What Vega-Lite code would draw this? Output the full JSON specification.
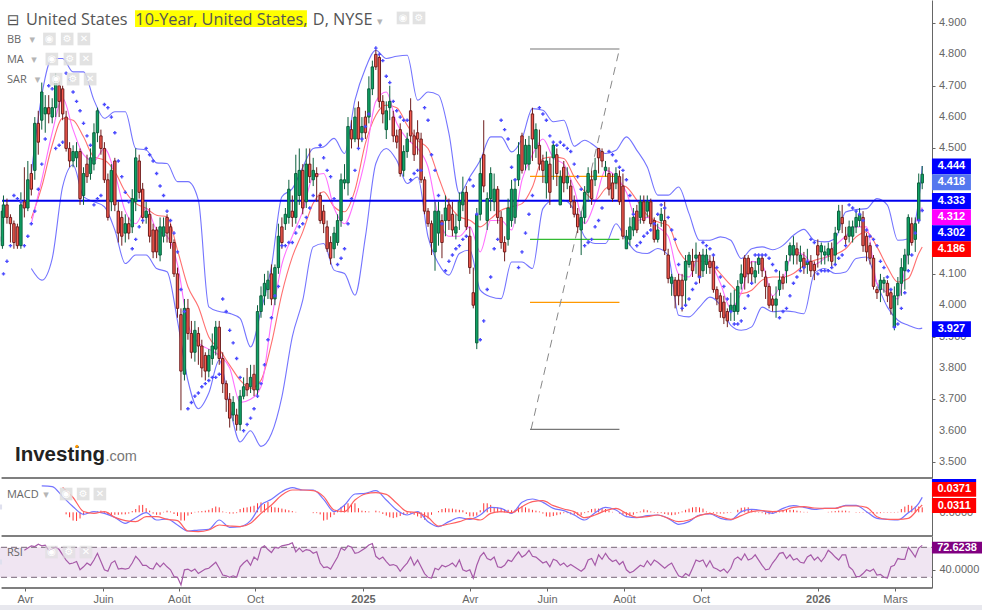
{
"$schema":"https://vega.github.io/schema/vega-lite/v6.json",
"description":"United States 10-Year yield, daily candles with BB, MA, SAR, MACD and RSI panels.",
"padding":0,
"background":"#ffffff",
"spacing":0,
"bounds":"flush",
"config":{"view":{"stroke":null}},
"datasets":{
"candles":[
{"i":0.7,"o":4.19,"h":4.31,"l":4.18,"c":4.30},
{"i":1,"o":4.28,"h":4.35,"l":4.26,"c":4.32,"s":4.10},
{"i":2,"o":4.32,"h":4.34,"l":4.26,"c":4.28,"s":4.14},
{"i":3,"o":4.28,"h":4.29,"l":4.20,"c":4.26,"s":4.19},
{"i":4,"o":4.26,"h":4.27,"l":4.18,"c":4.20,"s":4.35},
{"i":5,"o":4.25,"h":4.26,"l":4.18,"c":4.19,"s":4.34},
{"i":6,"o":4.19,"h":4.36,"l":4.18,"c":4.32,"s":4.33},
{"i":7,"o":4.33,"h":4.44,"l":4.28,"c":4.31,"s":4.19,"r":66},
{"i":8,"o":4.31,"h":4.46,"l":4.30,"c":4.40,"s":4.22,"r":69},
{"i":9,"o":4.42,"h":4.45,"l":4.35,"c":4.37,"s":4.26,"r":72},
{"i":10,"o":4.43,"h":4.60,"l":4.40,"c":4.58,"s":4.30,"r":71},
{"i":11,"o":4.58,"h":4.62,"l":4.48,"c":4.52,"s":4.37,"r":74},
{"i":12,"o":4.59,"h":4.71,"l":4.56,"c":4.68,"s":4.45,"r":72},
{"i":13,"o":4.61,"h":4.67,"l":4.55,"c":4.63,"s":4.53,"r":73},
{"i":14,"o":4.63,"h":4.67,"l":4.58,"c":4.61,"s":4.70,"r":66},
{"i":15,"o":4.60,"h":4.66,"l":4.58,"c":4.63,"s":4.69,"r":68},
{"i":16,"o":4.63,"h":4.74,"l":4.60,"c":4.72,"s":4.50,"d":0,"r":70},
{"i":17,"o":4.70,"h":4.72,"l":4.60,"c":4.65,"s":4.51,"d":0,"r":67},
{"i":18,"o":4.69,"h":4.70,"l":4.59,"c":4.61,"s":4.52,"d":0,"r":60},
{"i":19,"o":4.60,"h":4.62,"l":4.49,"c":4.50,"s":4.74,"d":-0.005,"r":53},
{"i":20,"o":4.50,"h":4.52,"l":4.44,"c":4.46,"s":4.72,"d":-0.012,"r":48},
{"i":21,"o":4.46,"h":4.51,"l":4.44,"c":4.49,"s":4.68,"d":-0.02,"r":49},
{"i":22,"o":4.47,"h":4.52,"l":4.44,"c":4.49,"s":4.65,"d":-0.021,"r":51},
{"i":23,"o":4.49,"h":4.50,"l":4.32,"c":4.34,"s":4.62,"d":-0.015,"r":40},
{"i":24,"o":4.35,"h":4.44,"l":4.32,"c":4.42,"s":4.58,"d":-0.007,"r":44},
{"i":25,"o":4.45,"h":4.48,"l":4.39,"c":4.41,"s":4.54,"d":-0.004,"r":49},
{"i":26,"o":4.42,"h":4.50,"l":4.40,"c":4.47,"s":4.51,"d":-0.001,"r":46},
{"i":27,"o":4.45,"h":4.58,"l":4.43,"c":4.55,"s":4.32,"d":0,"r":53},
{"i":28,"o":4.55,"h":4.63,"l":4.52,"c":4.62,"s":4.34,"d":0.002,"r":62},
{"i":29,"o":4.54,"h":4.56,"l":4.48,"c":4.50,"s":4.35,"d":0.004,"r":51},
{"i":30,"o":4.50,"h":4.52,"l":4.39,"c":4.40,"s":4.64,"d":-0.002,"r":40},
{"i":31,"o":4.40,"h":4.42,"l":4.27,"c":4.28,"s":4.63,"d":-0.006,"r":38},
{"i":32,"o":4.33,"h":4.45,"l":4.30,"c":4.43,"s":4.60,"d":-0.007,"r":49},
{"i":33,"o":4.46,"h":4.47,"l":4.30,"c":4.32,"s":4.55,"d":-0.006,"r":52},
{"i":34,"o":4.30,"h":4.33,"l":4.20,"c":4.23,"s":4.46,"d":-0.006,"r":41},
{"i":35,"o":4.28,"h":4.30,"l":4.19,"c":4.22,"s":4.41,"d":-0.005,"r":42},
{"i":36,"o":4.23,"h":4.29,"l":4.20,"c":4.26,"s":4.36,"d":-0.005,"r":41},
{"i":37,"o":4.26,"h":4.28,"l":4.21,"c":4.23,"s":4.33,"d":-0.003,"r":42},
{"i":38,"o":4.25,"h":4.37,"l":4.23,"c":4.34,"s":4.18,"d":0.003,"r":49},
{"i":39,"o":4.33,"h":4.50,"l":4.30,"c":4.47,"s":4.21,"d":0.008,"r":58},
{"i":40,"o":4.46,"h":4.48,"l":4.34,"c":4.36,"s":4.25,"d":0.017,"r":53},
{"i":41,"o":4.37,"h":4.39,"l":4.26,"c":4.28,"s":4.27,"d":0.018,"r":46},
{"i":42,"o":4.28,"h":4.33,"l":4.26,"c":4.30,"s":4.50,"d":0.01,"r":46},
{"i":43,"o":4.29,"h":4.31,"l":4.20,"c":4.22,"s":4.48,"d":0.004,"r":42},
{"i":44,"o":4.24,"h":4.26,"l":4.15,"c":4.17,"s":4.46,"d":-0.003,"r":41},
{"i":45,"o":4.24,"h":4.25,"l":4.15,"c":4.17,"s":4.42,"d":-0.006,"r":49},
{"i":46,"o":4.16,"h":4.28,"l":4.14,"c":4.25,"s":4.38,"d":-0.006,"r":44},
{"i":47,"o":4.22,"h":4.28,"l":4.20,"c":4.25,"s":4.35,"d":0.001,"r":49},
{"i":48,"o":4.28,"h":4.29,"l":4.20,"c":4.23,"s":4.30,"d":0.004,"r":44},
{"i":49,"o":4.25,"h":4.26,"l":4.18,"c":4.20,"s":4.27,"d":0.002,"r":40},
{"i":50,"o":4.20,"h":4.21,"l":4.09,"c":4.10,"s":4.23,"d":-0.004,"r":31},
{"i":51,"o":4.10,"h":4.12,"l":3.96,"c":3.99,"s":4.17,"d":-0.009,"r":30},
{"i":52,"o":3.97,"h":3.99,"l":3.665,"c":3.79,"s":4.05,"d":-0.02,"r":20},
{"i":53,"o":3.78,"h":4.02,"l":3.76,"c":3.99,"s":3.98,"d":-0.02,"r":40},
{"i":54,"o":3.99,"h":4.02,"l":3.89,"c":3.91,"s":3.67,"d":-0.008,"r":41},
{"i":55,"o":3.91,"h":3.95,"l":3.83,"c":3.85,"s":3.69,"d":-0.004,"r":38},
{"i":56,"o":3.85,"h":3.95,"l":3.82,"c":3.92,"s":3.71,"d":0.001,"r":41},
{"i":57,"o":3.91,"h":3.93,"l":3.81,"c":3.87,"s":3.72,"d":0.002,"r":35},
{"i":58,"o":3.87,"h":3.89,"l":3.77,"c":3.80,"s":3.74,"d":0.003,"r":38},
{"i":59,"o":3.84,"h":3.85,"l":3.76,"c":3.79,"s":3.75,"d":0.004,"r":41},
{"i":60,"o":3.79,"h":3.86,"l":3.77,"c":3.84,"s":3.76,"d":0.006,"r":42},
{"i":61,"o":3.83,"h":3.91,"l":3.81,"c":3.87,"s":3.77,"d":0.01,"r":46},
{"i":62,"o":3.86,"h":3.95,"l":3.84,"c":3.93,"s":3.77,"d":0.014,"r":50},
{"i":63,"o":3.93,"h":3.95,"l":3.81,"c":3.83,"s":3.78,"d":0.012,"r":42},
{"i":64,"o":3.83,"h":3.85,"l":3.72,"c":3.75,"s":4.02,"d":0.002,"r":33},
{"i":65,"o":3.75,"h":3.76,"l":3.66,"c":3.70,"s":3.98,"d":-0.001,"r":32},
{"i":66,"o":3.70,"h":3.72,"l":3.61,"c":3.64,"s":3.92,"d":-0.003,"r":30},
{"i":67,"o":3.65,"h":3.71,"l":3.63,"c":3.69,"s":3.88,"d":-0.003,"r":32},
{"i":68,"o":3.65,"h":3.67,"l":3.60,"c":3.62,"s":3.83,"d":-0.002,"r":30},
{"i":69,"o":3.62,"h":3.73,"l":3.60,"c":3.71,"s":3.77,"d":0.008,"r":44},
{"i":70,"o":3.71,"h":3.77,"l":3.70,"c":3.74,"s":3.60,"d":0.011,"r":49},
{"i":71,"o":3.75,"h":3.80,"l":3.71,"c":3.73,"s":3.62,"d":0.012,"r":53},
{"i":72,"o":3.74,"h":3.81,"l":3.72,"c":3.77,"s":3.64,"d":0.014,"r":46},
{"i":73,"o":3.78,"h":3.81,"l":3.71,"c":3.73,"s":3.67,"d":0.016,"r":57},
{"i":74,"o":3.73,"h":4.00,"l":3.71,"c":3.98,"s":3.71,"d":0.022,"r":53},
{"i":75,"o":3.98,"h":4.06,"l":3.96,"c":4.03,"s":3.75,"d":0.024,"r":69},
{"i":76,"o":4.03,"h":4.10,"l":4.00,"c":4.07,"s":3.81,"d":0.02,"r":72},
{"i":77,"o":4.05,"h":4.11,"l":4.02,"c":4.08,"s":3.89,"d":0.025,"r":67},
{"i":78,"o":4.10,"h":4.13,"l":4.00,"c":4.02,"s":3.96,"d":0.014,"r":63},
{"i":79,"o":4.02,"h":4.13,"l":4.00,"c":4.12,"s":4.03,"d":0.012,"r":70},
{"i":80,"o":4.12,"h":4.26,"l":4.10,"c":4.22,"s":4.06,"d":0.011,"r":69},
{"i":81,"o":4.25,"h":4.28,"l":4.18,"c":4.20,"s":4.19,"d":0.009,"r":72},
{"i":82,"o":4.26,"h":4.31,"l":4.24,"c":4.29,"s":4.19,"d":0.007,"r":73},
{"i":83,"o":4.28,"h":4.40,"l":4.26,"c":4.37,"s":4.20,"d":0.005,"r":74},
{"i":84,"o":4.30,"h":4.35,"l":4.25,"c":4.28,"s":4.20,"d":0.003,"r":76},
{"i":85,"o":4.28,"h":4.48,"l":4.26,"c":4.42,"s":4.23,"d":0.001,"r":64},
{"i":86,"o":4.35,"h":4.50,"l":4.32,"c":4.43,"s":4.25,"d":0,"r":69},
{"i":87,"o":4.43,"h":4.45,"l":4.29,"c":4.31,"s":4.26,"d":0,"r":64},
{"i":88,"o":4.33,"h":4.50,"l":4.31,"c":4.45,"s":4.28,"d":0,"r":67},
{"i":89,"o":4.45,"h":4.50,"l":4.39,"c":4.41,"s":4.31,"d":0,"r":66},
{"i":90,"o":4.40,"h":4.47,"l":4.38,"c":4.43,"s":4.35,"d":-0.002,"r":62},
{"i":91,"o":4.42,"h":4.44,"l":4.33,"c":4.41,"d":-0.002,"r":64},
{"i":92,"o":4.35,"h":4.36,"l":4.26,"c":4.27,"s":4.51,"d":-0.005,"r":49},
{"i":93,"o":4.30,"h":4.32,"l":4.23,"c":4.26,"s":4.47,"d":-0.02,"r":43},
{"i":94,"o":4.25,"h":4.27,"l":4.17,"c":4.18,"s":4.43,"d":-0.018,"r":44},
{"i":95,"o":4.20,"h":4.22,"l":4.13,"c":4.15,"s":4.41,"d":-0.012,"r":41},
{"i":96,"o":4.18,"h":4.25,"l":4.15,"c":4.23,"s":4.34,"d":-0.006,"r":49},
{"i":97,"o":4.20,"h":4.29,"l":4.19,"c":4.27,"s":4.13,"d":0.004,"r":57},
{"i":98,"o":4.27,"h":4.42,"l":4.25,"c":4.40,"s":4.15,"d":0.013,"r":69},
{"i":99,"o":4.39,"h":4.45,"l":4.37,"c":4.40,"s":4.18,"d":0.018,"r":66},
{"i":100,"o":4.39,"h":4.60,"l":4.35,"c":4.57,"s":4.26,"d":0.022,"r":72},
{"i":101,"o":4.56,"h":4.59,"l":4.50,"c":4.53,"s":4.34,"d":0.02,"r":70},
{"i":102,"o":4.53,"h":4.63,"l":4.52,"c":4.60,"s":4.43,"d":0.022,"r":62},
{"i":103,"o":4.63,"h":4.65,"l":4.50,"c":4.53,"s":4.50,"d":0.01,"r":63},
{"i":104,"o":4.55,"h":4.60,"l":4.52,"c":4.57,"s":4.53,"d":0.004,"r":66},
{"i":105,"o":4.60,"h":4.62,"l":4.53,"c":4.55,"s":4.57,"d":0.003,"r":69},
{"i":106,"o":4.60,"h":4.73,"l":4.58,"c":4.69,"s":4.61,"d":0.002,"r":73},
{"i":107,"o":4.69,"h":4.78,"l":4.67,"c":4.76,"d":0,"r":75},
{"i":108,"o":4.80,"h":4.815,"l":4.75,"c":4.76,"s":4.82,"d":0.004,"r":58},
{"i":109,"o":4.79,"h":4.80,"l":4.63,"c":4.65,"s":4.80,"d":0.002,"r":54},
{"i":110,"o":4.65,"h":4.67,"l":4.58,"c":4.61,"s":4.78,"d":-0.004,"r":57},
{"i":111,"o":4.56,"h":4.65,"l":4.53,"c":4.62,"s":4.73,"d":-0.008,"r":51},
{"i":112,"o":4.63,"h":4.70,"l":4.59,"c":4.65,"s":4.71,"d":-0.012,"r":46},
{"i":113,"o":4.60,"h":4.62,"l":4.52,"c":4.54,"s":4.65,"d":-0.014,"r":47},
{"i":114,"o":4.54,"h":4.56,"l":4.50,"c":4.52,"s":4.62,"d":-0.012,"r":45},
{"i":115,"o":4.56,"h":4.58,"l":4.41,"c":4.42,"s":4.60,"d":-0.009,"r":38},
{"i":116,"o":4.43,"h":4.51,"l":4.41,"c":4.49,"s":4.59,"d":-0.006,"r":44},
{"i":117,"o":4.49,"h":4.55,"l":4.47,"c":4.53,"s":4.59,"d":-0.004,"r":49},
{"i":118,"o":4.62,"h":4.66,"l":4.52,"c":4.54,"s":4.40,"d":-0.003,"r":57},
{"i":119,"o":4.54,"h":4.56,"l":4.46,"c":4.48,"s":4.42,"d":-0.006,"r":46},
{"i":120,"o":4.55,"h":4.59,"l":4.48,"c":4.53,"s":4.43,"d":-0.01,"r":53},
{"i":121,"o":4.53,"h":4.55,"l":4.39,"c":4.40,"s":4.43,"d":-0.014,"r":44},
{"i":122,"o":4.40,"h":4.41,"l":4.29,"c":4.30,"s":4.63,"d":-0.018,"r":35},
{"i":123,"o":4.30,"h":4.31,"l":4.25,"c":4.26,"s":4.59,"d":-0.015,"r":30},
{"i":124,"o":4.26,"h":4.27,"l":4.16,"c":4.20,"s":4.48,"d":-0.006,"r":29},
{"i":125,"o":4.17,"h":4.33,"l":4.11,"c":4.30,"s":4.43,"d":0,"r":42},
{"i":126,"o":4.23,"h":4.33,"l":4.19,"c":4.30,"s":4.35,"d":0.003,"r":40},
{"i":127,"o":4.27,"h":4.29,"l":4.15,"c":4.20,"s":4.26,"d":0.008,"r":46},
{"i":128,"o":4.27,"h":4.35,"l":4.22,"c":4.31,"s":4.11,"d":0.01,"r":44},
{"i":129,"o":4.32,"h":4.34,"l":4.24,"c":4.27,"s":4.14,"d":0.009,"r":46},
{"i":130,"o":4.29,"h":4.33,"l":4.22,"c":4.24,"s":4.16,"d":0.009,"r":49},
{"i":131,"o":4.23,"h":4.29,"l":4.21,"c":4.25,"s":4.18,"d":0.007,"r":44},
{"i":132,"o":4.27,"h":4.36,"l":4.24,"c":4.33,"s":4.19,"d":0.006,"r":53},
{"i":133,"o":4.32,"h":4.41,"l":4.30,"c":4.36,"s":4.21,"d":0.005,"r":40},
{"i":134,"o":4.36,"h":4.38,"l":4.24,"c":4.25,"s":4.22,"d":-0.004,"r":38},
{"i":135,"o":4.22,"h":4.25,"l":4.10,"c":4.12,"s":4.40,"d":-0.01,"r":40},
{"i":136,"o":4.04,"h":4.12,"l":3.99,"c":4.00,"s":4.38,"d":-0.01,"r":29},
{"i":137,"o":3.88,"h":4.31,"l":3.86,"c":4.29,"s":4.29,"d":-0.008,"r":46},
{"i":138,"o":4.29,"h":4.47,"l":4.27,"c":4.42,"s":3.89,"d":0.005,"r":58},
{"i":139,"o":4.48,"h":4.59,"l":4.36,"c":4.38,"s":3.95,"d":0.022,"r":63},
{"i":140,"o":4.27,"h":4.36,"l":4.24,"c":4.34,"s":4.05,"d":0.022,"r":55},
{"i":141,"o":4.34,"h":4.44,"l":4.30,"c":4.42,"s":4.09,"d":0.018,"r":53},
{"i":142,"o":4.33,"h":4.42,"l":4.30,"c":4.37,"s":4.18,"d":0.012,"r":57},
{"i":143,"o":4.37,"h":4.38,"l":4.26,"c":4.28,"s":4.21,"d":0.012,"r":44},
{"i":144,"o":4.28,"h":4.30,"l":4.18,"c":4.20,"s":4.59,"d":0.01,"r":43},
{"i":145,"o":4.20,"h":4.22,"l":4.14,"c":4.17,"s":4.56,"d":0.007,"r":46},
{"i":146,"o":4.21,"h":4.34,"l":4.19,"c":4.31,"s":4.53,"d":0.006,"r":53},
{"i":147,"o":4.27,"h":4.40,"l":4.25,"c":4.37,"s":4.44,"d":0.005,"r":51},
{"i":148,"o":4.28,"h":4.40,"l":4.26,"c":4.37,"s":4.40,"d":0.006,"r":58},
{"i":149,"o":4.40,"h":4.52,"l":4.38,"c":4.48,"s":4.12,"d":0.012,"r":64},
{"i":150,"o":4.54,"h":4.55,"l":4.42,"c":4.43,"s":4.17,"d":0.015,"r":57},
{"i":151,"o":4.45,"h":4.53,"l":4.43,"c":4.51,"s":4.23,"d":0.012,"r":60},
{"i":152,"o":4.45,"h":4.54,"l":4.43,"c":4.51,"s":4.29,"d":0.009,"r":66},
{"i":153,"o":4.61,"h":4.63,"l":4.46,"c":4.53,"s":4.35,"d":0.006,"r":58},
{"i":154,"o":4.50,"h":4.58,"l":4.47,"c":4.56,"d":0.004,"r":57},
{"i":155,"o":4.51,"h":4.56,"l":4.43,"c":4.45,"s":4.63,"d":0.002,"r":53},
{"i":156,"o":4.46,"h":4.48,"l":4.39,"c":4.43,"s":4.61,"d":-0.003,"r":49},
{"i":157,"o":4.39,"h":4.49,"l":4.34,"c":4.46,"s":4.59,"d":-0.01,"r":51},
{"i":158,"o":4.45,"h":4.47,"l":4.32,"c":4.36,"s":4.54,"d":-0.011,"r":44},
{"i":159,"o":4.47,"h":4.52,"l":4.40,"c":4.51,"s":4.52,"d":-0.009,"r":54},
{"i":160,"o":4.48,"h":4.50,"l":4.38,"c":4.42,"s":4.51,"d":-0.007,"r":52},
{"i":161,"o":4.32,"h":4.43,"l":4.32,"c":4.41,"s":4.52,"d":-0.005,"r":46},
{"i":162,"o":4.44,"h":4.46,"l":4.36,"c":4.39,"s":4.51,"d":-0.002,"r":49},
{"i":163,"o":4.39,"h":4.44,"l":4.37,"c":4.41,"s":4.50,"d":-0.002,"r":44},
{"i":164,"o":4.38,"h":4.40,"l":4.31,"c":4.33,"s":4.49,"d":-0.005,"r":47},
{"i":165,"o":4.33,"h":4.35,"l":4.28,"c":4.29,"s":4.45,"d":-0.006,"r":44},
{"i":166,"o":4.29,"h":4.31,"l":4.23,"c":4.25,"s":4.41,"d":-0.007,"r":41},
{"i":167,"o":4.24,"h":4.30,"l":4.16,"c":4.28,"s":4.37,"d":-0.007,"r":38},
{"i":168,"o":4.28,"h":4.38,"l":4.26,"c":4.36,"s":4.19,"d":-0.002,"r":42},
{"i":169,"o":4.36,"h":4.44,"l":4.33,"c":4.42,"s":4.20,"d":0.003,"r":53},
{"i":170,"o":4.40,"h":4.43,"l":4.32,"c":4.34,"s":4.21,"d":0.008,"r":55},
{"i":171,"o":4.40,"h":4.47,"l":4.38,"c":4.43,"s":4.25,"d":0.009,"r":46},
{"i":172,"o":4.50,"h":4.50,"l":4.42,"c":4.47,"s":4.27,"d":0.009,"r":60},
{"i":173,"o":4.49,"h":4.50,"l":4.44,"c":4.46,"s":4.31,"d":0.01,"r":54},
{"i":174,"o":4.43,"h":4.46,"l":4.41,"c":4.44,"d":0.008,"r":62},
{"i":175,"o":4.42,"h":4.44,"l":4.35,"c":4.37,"s":4.49,"d":0.004,"r":55},
{"i":176,"o":4.39,"h":4.42,"l":4.33,"c":4.34,"s":4.48,"d":0.001,"r":51},
{"i":177,"o":4.39,"h":4.44,"l":4.37,"c":4.42,"s":4.46,"d":0,"r":53},
{"i":178,"o":4.41,"h":4.43,"l":4.32,"c":4.33,"s":4.44,"d":-0.003,"r":47},
{"i":179,"o":4.38,"h":4.42,"l":4.21,"c":4.22,"s":4.43,"d":-0.006,"r":51},
{"i":180,"o":4.18,"h":4.24,"l":4.18,"c":4.22,"s":4.40,"d":-0.008,"r":40},
{"i":181,"o":4.21,"h":4.28,"l":4.19,"c":4.25,"s":4.35,"d":-0.009,"r":36},
{"i":182,"o":4.24,"h":4.31,"l":4.22,"c":4.28,"s":4.29,"d":-0.006,"r":38},
{"i":183,"o":4.30,"h":4.32,"l":4.23,"c":4.24,"s":4.19,"d":-0.002,"r":42},
{"i":184,"o":4.28,"h":4.35,"l":4.26,"c":4.33,"s":4.20,"d":0.002,"r":46},
{"i":185,"o":4.33,"h":4.35,"l":4.26,"c":4.27,"s":4.22,"d":0.007,"r":44},
{"i":186,"o":4.30,"h":4.35,"l":4.28,"c":4.33,"s":4.23,"d":0.005,"r":52},
{"i":187,"o":4.33,"h":4.34,"l":4.25,"c":4.26,"s":4.24,"d":0.002,"r":46},
{"i":188,"o":4.27,"h":4.28,"l":4.20,"c":4.21,"s":4.26,"d":-0.001,"r":53},
{"i":189,"o":4.21,"h":4.26,"l":4.20,"c":4.24,"s":4.29,"d":-0.002,"r":50},
{"i":190,"o":4.27,"h":4.31,"l":4.25,"c":4.29,"s":4.32,"d":-0.002,"r":46},
{"i":191,"o":4.27,"h":4.33,"l":4.16,"c":4.175,"s":4.31,"d":-0.004,"r":42},
{"i":192,"o":4.16,"h":4.18,"l":4.07,"c":4.085,"s":4.28,"d":-0.006,"r":46},
{"i":193,"o":4.07,"h":4.10,"l":4.03,"c":4.09,"s":4.24,"d":-0.007,"r":49},
{"i":194,"o":4.08,"h":4.09,"l":3.99,"c":4.03,"s":4.21,"d":-0.006,"r":40},
{"i":195,"o":4.08,"h":4.10,"l":4.00,"c":4.03,"s":4.13,"d":-0.003,"r":32},
{"i":196,"o":4.08,"h":4.10,"l":3.98,"c":4.03,"s":3.99,"d":0.002,"r":30},
{"i":197,"o":4.08,"h":4.16,"l":4.00,"c":4.14,"s":4.00,"d":0.006,"r":35},
{"i":198,"o":4.13,"h":4.17,"l":4.12,"c":4.16,"s":4.02,"d":0.009,"r":32},
{"i":199,"o":4.14,"h":4.18,"l":4.09,"c":4.11,"s":4.05,"d":0.012,"r":42},
{"i":200,"o":4.15,"h":4.20,"l":4.10,"c":4.16,"s":4.07,"d":0.013,"r":53},
{"i":201,"o":4.16,"h":4.17,"l":4.07,"c":4.09,"s":4.09,"d":0.012,"r":51},
{"i":202,"o":4.11,"h":4.18,"l":4.09,"c":4.16,"s":4.20,"d":0.009,"r":53},
{"i":203,"o":4.13,"h":4.18,"l":4.10,"c":4.16,"s":4.19,"d":0.002,"r":44},
{"i":204,"o":4.14,"h":4.16,"l":4.10,"c":4.12,"s":4.18,"d":-0.001,"r":52},
{"i":205,"o":4.14,"h":4.16,"l":4.04,"c":4.05,"s":4.16,"d":-0.002,"r":43},
{"i":206,"o":4.05,"h":4.06,"l":4.00,"c":4.02,"s":4.12,"d":-0.003,"r":41},
{"i":207,"o":4.03,"h":4.04,"l":3.96,"c":3.98,"s":4.09,"d":-0.003,"r":38},
{"i":208,"o":4.01,"h":4.03,"l":3.94,"c":3.96,"s":4.06,"d":-0.003,"r":41},
{"i":209,"o":3.98,"h":3.99,"l":3.93,"c":3.95,"s":4.02,"d":-0.002,"r":36},
{"i":210,"o":3.98,"h":4.04,"l":3.95,"c":4.00,"s":3.98,"d":-0.001,"r":42},
{"i":211,"o":3.98,"h":4.05,"l":3.95,"c":4.00,"s":3.94,"d":0,"r":54},
{"i":212,"o":3.98,"h":4.08,"l":3.97,"c":4.06,"s":3.94,"d":0.006,"r":57},
{"i":213,"o":4.07,"h":4.13,"l":4.05,"c":4.10,"s":3.95,"d":0.011,"r":53},
{"i":214,"o":4.15,"h":4.16,"l":4.05,"c":4.09,"s":3.99,"d":0.012,"r":61},
{"i":215,"o":4.15,"h":4.16,"l":4.07,"c":4.10,"s":4.03,"d":0.012,"r":53},
{"i":216,"o":4.12,"h":4.14,"l":4.07,"c":4.10,"s":4.07,"d":0.006,"r":55},
{"i":217,"o":4.09,"h":4.14,"l":4.07,"c":4.11,"s":4.16,"d":0.002,"r":60},
{"i":218,"o":4.13,"h":4.16,"l":4.10,"c":4.15,"s":4.16,"d":-0.001,"r":53},
{"i":219,"o":4.15,"h":4.16,"l":4.09,"c":4.11,"s":4.16,"d":-0.002,"r":46},
{"i":220,"o":4.09,"h":4.11,"l":4.02,"c":4.06,"s":4.16,"d":-0.005,"r":40},
{"i":221,"o":4.06,"h":4.07,"l":3.99,"c":4.00,"s":4.15,"d":-0.005,"r":41},
{"i":222,"o":4.02,"h":4.03,"l":3.98,"c":4.00,"s":4.13,"d":-0.004,"r":49},
{"i":223,"o":4.00,"h":4.06,"l":3.96,"c":4.02,"s":4.11,"d":-0.002,"r":55},
{"i":224,"o":4.05,"h":4.11,"l":4.03,"c":4.08,"s":3.96,"d":0.002,"r":62},
{"i":225,"o":4.09,"h":4.10,"l":4.05,"c":4.07,"s":3.98,"d":0.005,"r":63},
{"i":226,"o":4.11,"h":4.16,"l":4.07,"c":4.14,"s":3.99,"d":0.007,"r":55},
{"i":227,"o":4.16,"h":4.20,"l":4.14,"c":4.19,"s":4.03,"d":0.006,"r":60},
{"i":228,"o":4.16,"h":4.22,"l":4.13,"c":4.19,"s":4.07,"d":0.006,"r":53},
{"i":229,"o":4.18,"h":4.20,"l":4.13,"c":4.16,"s":4.09,"d":0.004,"r":55},
{"i":230,"o":4.14,"h":4.19,"l":4.11,"c":4.16,"s":4.11,"d":0.002,"r":50},
{"i":231,"o":4.15,"h":4.17,"l":4.10,"c":4.12,"s":4.12,"d":0.001,"r":49},
{"i":232,"o":4.13,"h":4.18,"l":4.10,"c":4.14,"s":4.14,"d":0.001,"r":57},
{"i":233,"o":4.14,"h":4.16,"l":4.09,"c":4.11,"s":4.21,"d":0,"r":60},
{"i":234,"o":4.13,"h":4.14,"l":4.08,"c":4.11,"s":4.20,"d":0,"r":53},
{"i":235,"o":4.19,"h":4.21,"l":4.12,"c":4.16,"s":4.10,"d":0,"r":57},
{"i":236,"o":4.17,"h":4.20,"l":4.13,"c":4.19,"s":4.11,"d":0,"r":51},
{"i":237,"o":4.16,"h":4.19,"l":4.13,"c":4.17,"s":4.11,"d":0,"r":57},
{"i":238,"o":4.16,"h":4.20,"l":4.14,"c":4.18,"s":4.11,"d":0.001,"r":66},
{"i":239,"o":4.18,"h":4.20,"l":4.12,"c":4.14,"s":4.12,"d":0.002,"r":62},
{"i":240,"o":4.16,"h":4.25,"l":4.13,"c":4.23,"s":4.13,"d":0.003,"r":57},
{"i":241,"o":4.24,"h":4.32,"l":4.23,"c":4.30,"s":4.15,"d":0.004,"r":53},
{"i":242,"o":4.28,"h":4.32,"l":4.23,"c":4.26,"s":4.16,"d":0.004,"r":60},
{"i":243,"o":4.22,"h":4.25,"l":4.19,"c":4.21,"s":4.19,"d":0.004,"r":60},
{"i":244,"o":4.22,"h":4.27,"l":4.20,"c":4.25,"s":4.32,"d":0.002,"r":44},
{"i":245,"o":4.22,"h":4.27,"l":4.20,"c":4.25,"s":4.31,"d":0,"r":40},
{"i":246,"o":4.25,"h":4.30,"l":4.23,"c":4.28,"s":4.30,"d":-0.001,"r":31},
{"i":247,"o":4.27,"h":4.31,"l":4.25,"c":4.29,"s":4.29,"d":-0.001,"r":31},
{"i":248,"o":4.28,"h":4.30,"l":4.17,"c":4.19,"s":4.27,"d":-0.001,"r":35},
{"i":249,"o":4.22,"h":4.23,"l":4.14,"c":4.17,"s":4.24,"d":-0.001,"r":40},
{"i":250,"o":4.19,"h":4.20,"l":4.13,"c":4.15,"s":4.22,"d":-0.002,"r":38},
{"i":251,"o":4.15,"h":4.16,"l":4.05,"c":4.06,"s":4.21,"d":-0.003,"r":41},
{"i":252,"o":4.05,"h":4.06,"l":4.02,"c":4.04,"s":4.19,"d":-0.003,"r":33},
{"i":253,"o":4.05,"h":4.10,"l":4.01,"c":4.08,"s":4.14,"d":-0.002,"r":34},
{"i":254,"o":4.07,"h":4.09,"l":4.04,"c":4.08,"s":4.12,"d":-0.001,"r":30},
{"i":255,"o":4.07,"h":4.08,"l":4.01,"c":4.03,"s":4.09,"d":-0.001,"r":29},
{"i":256,"o":4.04,"h":4.05,"l":3.97,"c":3.99,"s":4.05,"d":-0.001,"r":44},
{"i":257,"o":3.93,"h":4.06,"l":3.92,"c":4.03,"s":3.93,"d":-0.001,"r":46},
{"i":258,"o":4.03,"h":4.09,"l":4.00,"c":4.07,"s":3.94,"d":0.001,"r":55},
{"i":259,"o":4.07,"h":4.15,"l":4.03,"c":4.12,"s":3.99,"d":0.008,"r":54},
{"i":260,"o":4.11,"h":4.18,"l":4.05,"c":4.16,"s":4.04,"d":0.014,"r":54},
{"i":261,"o":4.16,"h":4.29,"l":4.13,"c":4.28,"s":4.11,"d":0.018,"r":70},
{"i":262,"o":4.26,"h":4.28,"l":4.19,"c":4.20,"s":4.16,"d":0.016,"r":64},
{"i":263,"o":4.21,"h":4.28,"l":4.17,"c":4.26,"s":4.23,"d":0.014,"r":57},
{"i":264,"o":4.27,"h":4.42,"l":4.26,"c":4.39,"s":4.27,"d":0.014,"r":69},
{"i":265,"o":4.39,"h":4.444,"l":4.37,"c":4.418,"s":4.302,"d":0.012,"r":72.6}
],
"lines":[
{"i":9,"u":4.42,"lo":4.117,"a":4.277,"b":4.26},
{"i":12,"u":4.67,"lo":4.08,"a":4.378,"b":4.40,"m":0.064},
{"i":15,"u":4.787,"lo":4.149,"a":4.511,"b":4.55,"m":0.0622},
{"i":18,"u":4.787,"lo":4.378,"a":4.596,"b":4.66,"m":0.038,"n":0.0606},
{"i":21,"u":4.744,"lo":4.447,"a":4.59,"b":4.56,"m":0.0137,"n":0.036},
{"i":24,"u":4.744,"lo":4.346,"a":4.537,"b":4.48,"m":-0.005,"n":0.002},
{"i":27,"u":4.654,"lo":4.33,"a":4.473,"b":4.46,"m":0.0016,"n":-0.0025},
{"i":30,"u":4.596,"lo":4.314,"a":4.463,"b":4.50,"m":-0.0025,"n":0.0016},
{"i":33,"u":4.617,"lo":4.24,"a":4.426,"b":4.42,"m":-0.0122,"n":-0.0122},
{"i":36,"u":4.617,"lo":4.133,"a":4.362,"b":4.30,"m":-0.0267,"n":-0.02},
{"i":39,"u":4.50,"lo":4.16,"a":4.325,"b":4.26,"m":-0.013,"n":-0.0227},
{"i":42,"u":4.495,"lo":4.16,"a":4.309,"b":4.31,"m":-0.0009,"n":-0.0106},
{"i":45,"u":4.454,"lo":4.117,"a":4.287,"b":4.24,"m":-0.0187,"n":-0.0106},
{"i":48,"u":4.452,"lo":4.107,"a":4.282,"b":4.22,"m":-0.0162,"n":-0.017},
{"i":51,"u":4.394,"lo":3.95,"a":4.176,"b":4.13,"m":-0.0308,"n":-0.0203},
{"i":54,"u":4.394,"lo":3.76,"a":4.059,"b":3.94,"m":-0.0454,"n":-0.0454},
{"i":57,"u":4.335,"lo":3.67,"a":3.995,"b":3.88,"m":-0.043,"n":-0.047},
{"i":60,"u":3.995,"lo":3.72,"a":3.899,"b":3.86,"m":-0.0413,"n":-0.043},
{"i":63,"u":3.98,"lo":3.825,"a":3.859,"b":3.84,"m":-0.0187,"n":-0.0308},
{"i":66,"u":3.974,"lo":3.676,"a":3.809,"b":3.80,"m":-0.0365,"n":-0.0332},
{"i":69,"u":3.958,"lo":3.564,"a":3.761,"b":3.69,"m":-0.0348,"n":-0.0348},
{"i":72,"u":3.867,"lo":3.60,"a":3.735,"b":3.70,"m":-0.0203,"n":-0.0267},
{"i":75,"u":3.984,"lo":3.55,"a":3.761,"b":3.74,"m":0.0178,"n":-0.0025},
{"i":78,"u":4.123,"lo":3.59,"a":3.878,"b":3.95,"m":0.0315,"n":0.0178},
{"i":81,"u":4.346,"lo":3.708,"a":4.037,"b":4.13,"m":0.0501,"n":0.042},
{"i":84,"u":4.372,"lo":3.90,"a":4.154,"b":4.22,"m":0.0598,"n":0.0542},
{"i":87,"u":4.44,"lo":4.016,"a":4.234,"b":4.30,"m":0.0542,"n":0.0542},
{"i":90,"u":4.50,"lo":4.186,"a":4.325,"b":4.41,"m":0.0542,"n":0.0525},
{"i":93,"u":4.505,"lo":4.197,"a":4.362,"b":4.42,"m":0.0315,"n":0.038},
{"i":96,"u":4.532,"lo":4.112,"a":4.314,"b":4.31,"m":0.0016,"n":0.0056},
{"i":99,"u":4.484,"lo":4.101,"a":4.298,"b":4.26,"m":0.0178,"n":0.0016},
{"i":102,"u":4.654,"lo":4.032,"a":4.367,"b":4.34,"m":0.0445,"n":0.0299},
{"i":105,"u":4.755,"lo":4.218,"a":4.516,"b":4.47,"m":0.0461,"n":0.0445},
{"i":108,"u":4.813,"lo":4.452,"a":4.606,"b":4.65,"m":0.0525,"n":0.0477},
{"i":111,"u":4.787,"lo":4.50,"a":4.638,"b":4.68,"m":0.0299,"n":0.0436},
{"i":114,"u":4.794,"lo":4.462,"a":4.63,"b":4.58,"m":0.0056,"n":0.0218},
{"i":117,"u":4.797,"lo":4.388,"a":4.574,"b":4.53,"m":-0.0065,"n":0.0016},
{"i":120,"u":4.654,"lo":4.409,"a":4.526,"b":4.50,"m":0.0016,"n":-0.0009},
{"i":123,"u":4.68,"lo":4.218,"a":4.50,"b":4.44,"m":-0.0227,"n":-0.0122},
{"i":126,"u":4.67,"lo":4.133,"a":4.409,"b":4.28,"m":-0.0348,"n":-0.0332},
{"i":129,"u":4.548,"lo":4.096,"a":4.324,"b":4.22,"m":-0.0227,"n":-0.0284},
{"i":132,"u":4.356,"lo":4.165,"a":4.282,"b":4.22,"m":-0.013,"n":-0.0227},
{"i":135,"u":4.409,"lo":4.176,"a":4.271,"b":4.25,"m":-0.017,"n":-0.0146},
{"i":138,"u":4.462,"lo":4.048,"a":4.25,"b":4.17,"m":-0.0065,"n":-0.0187},
{"i":141,"u":4.537,"lo":4.027,"a":4.276,"b":4.27,"m":0.0121,"n":-0.0025},
{"i":144,"u":4.537,"lo":4.021,"a":4.303,"b":4.27,"m":0.0097,"n":0.0016},
{"i":147,"u":4.489,"lo":4.138,"a":4.314,"b":4.24,"m":-0.0025,"n":-0.0009},
{"i":150,"u":4.531,"lo":4.138,"a":4.324,"b":4.40,"m":0.0242,"n":0.0137},
{"i":153,"u":4.627,"lo":4.117,"a":4.377,"b":4.48,"m":0.0323,"n":0.0259},
{"i":156,"u":4.622,"lo":4.308,"a":4.468,"b":4.53,"m":0.0242,"n":0.0283},
{"i":159,"u":4.585,"lo":4.335,"a":4.473,"b":4.47,"m":0.0097,"n":0.0161},
{"i":162,"u":4.59,"lo":4.335,"a":4.468,"b":4.45,"m":0.004,"n":0.0081},
{"i":165,"u":4.507,"lo":4.303,"a":4.409,"b":4.37,"m":-0.0065,"n":0.0016},
{"i":168,"u":4.526,"lo":4.218,"a":4.362,"b":4.26,"m":-0.0187,"n":-0.013},
{"i":171,"u":4.507,"lo":4.197,"a":4.335,"b":4.33,"m":-0.0009,"n":-0.0065},
{"i":174,"u":4.484,"lo":4.197,"a":4.372,"b":4.43,"m":0.0121,"n":0.004},
{"i":177,"u":4.494,"lo":4.26,"a":4.388,"b":4.41,"m":0.0056,"n":0.0097},
{"i":180,"u":4.537,"lo":4.207,"a":4.377,"b":4.36,"m":-0.0106,"n":-0.0025},
{"i":183,"u":4.494,"lo":4.17,"a":4.335,"b":4.27,"m":-0.013,"n":-0.0122},
{"i":186,"u":4.441,"lo":4.165,"a":4.287,"b":4.28,"m":-0.0081,"n":-0.0106},
{"i":189,"u":4.351,"lo":4.181,"a":4.266,"b":4.25,"m":-0.0065,"n":-0.0065},
{"i":192,"u":4.351,"lo":4.159,"a":4.255,"b":4.22,"m":-0.0146,"n":-0.0146},
{"i":195,"u":4.377,"lo":3.968,"a":4.175,"b":4.10,"m":-0.0292,"n":-0.0227},
{"i":198,"u":4.292,"lo":3.963,"a":4.138,"b":4.09,"m":-0.0227,"n":-0.0187},
{"i":201,"u":4.207,"lo":3.994,"a":4.141,"b":4.16,"m":-0.0065,"n":-0.0081},
{"i":204,"u":4.207,"lo":4.026,"a":4.133,"b":4.14,"m":-0.0041,"n":-0.0025},
{"i":207,"u":4.218,"lo":4.00,"a":4.101,"b":4.07,"m":-0.0146,"n":-0.0106},
{"i":210,"u":4.207,"lo":3.936,"a":4.064,"b":3.99,"m":-0.0187,"n":-0.017},
{"i":213,"u":4.149,"lo":3.92,"a":4.037,"b":4.04,"m":0.0016,"n":-0.0081},
{"i":216,"u":4.18,"lo":3.931,"a":4.048,"b":4.14,"m":0.0072,"n":0.0016},
{"i":219,"u":4.186,"lo":3.994,"a":4.08,"b":4.13,"m":0.004,"n":0.004},
{"i":222,"u":4.177,"lo":3.979,"a":4.09,"b":4.03,"m":-0.0025,"n":0.0016},
{"i":225,"u":4.191,"lo":3.982,"a":4.09,"b":4.08,"m":0.0097,"n":0.004},
{"i":228,"u":4.223,"lo":3.979,"a":4.101,"b":4.17,"m":0.0161,"n":0.0121},
{"i":231,"u":4.242,"lo":3.973,"a":4.127,"b":4.16,"m":0.0121,"n":0.0137},
{"i":234,"u":4.207,"lo":4.101,"a":4.143,"b":4.13,"m":0.0072,"n":0.0105},
{"i":237,"u":4.202,"lo":4.117,"a":4.152,"b":4.15,"m":0.0097,"n":0.0097},
{"i":240,"u":4.212,"lo":4.101,"a":4.162,"b":4.19,"m":0.0097,"n":0.0097},
{"i":243,"u":4.297,"lo":4.106,"a":4.18,"b":4.22,"m":0.0169,"n":0.0153},
{"i":246,"u":4.305,"lo":4.149,"a":4.218,"b":4.25,"m":0.0169,"n":0.0153},
{"i":249,"u":4.308,"lo":4.154,"a":4.234,"b":4.25,"m":0.0016,"n":0.0121},
{"i":252,"u":4.34,"lo":4.069,"a":4.186,"b":4.07,"m":-0.0146,"n":-0.0106},
{"i":255,"u":4.319,"lo":3.994,"a":4.122,"b":4.04,"m":-0.017,"n":-0.017},
{"i":258,"u":4.207,"lo":3.952,"a":4.074,"b":4.02,"m":-0.0187,"n":-0.017},
{"i":261,"u":4.212,"lo":3.936,"a":4.085,"b":4.18,"m":-0.0009,"n":-0.0146},
{"i":264,"u":4.335,"lo":3.925,"a":4.165,"b":4.29,"m":0.0218,"n":0.0097},
{"i":265,"u":4.444,"lo":3.927,"a":4.186,"b":4.312,"m":0.0364,"n":0.0178}
],
"fib":[
{"a":152.3,"b":178,"p":4.817,"z":"edge"},
{"a":152.3,"b":178,"p":4.411,"z":"mid"},
{"a":152.3,"b":178,"p":4.21,"z":"half"},
{"a":152.3,"b":178,"p":4.009,"z":"mid"},
{"a":152.3,"b":178,"p":3.604,"z":"edge"}
]
},
"vconcat":[
{
"width":982,"height":478,
"encoding":{"x":{"field":"i","type":"quantitative","scale":{"domain":[0,282.18],"nice":false,"zero":false,"padding":0},"axis":null}},
"layer":[
{"data":{"values":[{"a":0,"b":0.6}]},"mark":{"type":"bar","color":"#dfe0ee"},"encoding":{"x":{"field":"a","type":"quantitative"},"x2":{"field":"b"}}},
{"data":{"name":"lines"},"mark":{"type":"line","color":"#7474ff","strokeWidth":1.1,"interpolate":"monotone"},
 "encoding":{"y":{"field":"u","type":"quantitative","scale":{"domain":[3.4491,4.9733],"nice":false,"zero":false},
  "axis":{"orient":"right","offset":-50,"values":[3.5,3.6,3.7,3.8,3.9,4.0,4.1,4.2,4.3,4.4,4.5,4.6,4.7,4.8,4.9],"labels":false,"title":null,"grid":false,"domainColor":"#666666","tickColor":"#666666","tickSize":3}}}},
{"data":{"name":"lines"},"mark":{"type":"line","color":"#7474ff","strokeWidth":1.1,"interpolate":"monotone"},"encoding":{"y":{"field":"lo","type":"quantitative","scale":{"domain":[3.4491,4.9733],"nice":false,"zero":false},"title":null}}},
{"data":{"name":"lines"},"mark":{"type":"line","color":"#ff7070","strokeWidth":1.1,"interpolate":"monotone"},"encoding":{"y":{"field":"a","type":"quantitative","scale":{"domain":[3.4491,4.9733],"nice":false,"zero":false},"title":null}}},
{"data":{"name":"lines"},"mark":{"type":"line","color":"#ff70ff","strokeWidth":1.1,"interpolate":"monotone"},"encoding":{"y":{"field":"b","type":"quantitative","scale":{"domain":[3.4491,4.9733],"nice":false,"zero":false},"title":null}}},
{"data":{"name":"fib"},"mark":{"type":"rule","strokeWidth":1.2},
 "encoding":{"x":{"field":"a","type":"quantitative"},"x2":{"field":"b"},"y":{"field":"p","type":"quantitative","scale":{"domain":[3.4491,4.9733],"nice":false,"zero":false},"title":null},
  "stroke":{"field":"z","type":"nominal","scale":{"domain":["edge","mid","half"],"range":["#777777","#ff9900","#33bb33"]},"legend":null}}},
{"data":{"values":[{"i":178,"p":4.817},{"i":152.6,"p":3.604}]},"mark":{"type":"line","color":"#888888","strokeWidth":1,"strokeDash":[8,6]},
 "encoding":{"y":{"field":"p","type":"quantitative","scale":{"domain":[3.4491,4.9733],"nice":false,"zero":false},"title":null},"order":{"field":"p"}}},
{"data":{"values":[{"a":0.6,"b":267.8,"p":4.333}]},"mark":{"type":"rule","color":"#0000ee","strokeWidth":2},
 "encoding":{"x":{"field":"a","type":"quantitative"},"x2":{"field":"b"},"y":{"field":"p","type":"quantitative","scale":{"domain":[3.4491,4.9733],"nice":false,"zero":false},"title":null}}},
{"data":{"name":"candles"},"mark":{"type":"rule","strokeWidth":1},
 "encoding":{"y":{"field":"l","type":"quantitative","scale":{"domain":[3.4491,4.9733],"nice":false,"zero":false},"title":null},"y2":{"field":"h"},
  "color":{"condition":{"test":"datum.c>=datum.o","value":"#0b5f3c"},"value":"#6e1d1d"}}},
{"data":{"name":"candles"},"mark":{"type":"bar","width":2.4,"strokeWidth":1},
 "encoding":{"y":{"field":"o","type":"quantitative","scale":{"domain":[3.4491,4.9733],"nice":false,"zero":false},"title":null},"y2":{"field":"c"},
  "fill":{"condition":{"test":"datum.c>=datum.o","value":"#0fa566"},"value":"#f55a4e"},
  "stroke":{"condition":{"test":"datum.c>=datum.o","value":"#0b5f3c"},"value":"#6e1d1d"}}},
{"data":{"name":"candles"},"mark":{"type":"point","shape":"cross","filled":true,"color":"#4a4aff","size":12,"opacity":1},
 "encoding":{"y":{"field":"s","type":"quantitative","scale":{"domain":[3.4491,4.9733],"nice":false,"zero":false},"title":null}}},
{"data":{"values":[{"a":0.45,"b":267.8,"p":3.4491}]},"mark":{"type":"rule","color":"#555555","strokeWidth":1.5},
 "encoding":{"x":{"field":"a","type":"quantitative"},"x2":{"field":"b"},"y":{"field":"p","type":"quantitative","scale":{"domain":[3.4491,4.9733],"nice":false,"zero":false},"title":null}}},
{"data":{"values":[{"a":38.8,"b":88.2,"p":4.887,"q":4.941}]},"mark":{"type":"bar","color":"#ffff00"},
 "encoding":{"x":{"field":"a","type":"quantitative"},"x2":{"field":"b"},"y":{"field":"p","type":"quantitative","scale":{"domain":[3.4491,4.9733],"nice":false,"zero":false},"title":null},"y2":{"field":"q"}}},
{"data":{"values":[{"i":7.47,"p":4.893,"t":"United States"},{"i":38.9,"p":4.893,"t":"10-Year, United States,"},{"i":89.9,"p":4.893,"t":"D, NYSE"}]},
 "mark":{"type":"text","align":"left","baseline":"alphabetic","font":"Open Sans","fontSize":16.3,"color":"#555555"},
 "encoding":{"y":{"field":"p","type":"quantitative","scale":{"domain":[3.4491,4.9733],"nice":false,"zero":false},"title":null},"text":{"field":"t"}}},
{"data":{"values":[{"i":2,"p":4.893,"t":"⊟"}]},"mark":{"type":"text","align":"left","baseline":"alphabetic","font":"DejaVu Sans","fontSize":15,"color":"#555555"},
 "encoding":{"y":{"field":"p","type":"quantitative","scale":{"domain":[3.4491,4.9733],"nice":false,"zero":false},"title":null},"text":{"field":"t"}}},
{"data":{"values":[{"i":2,"p":4.836,"t":"BB"},{"i":2,"p":4.772,"t":"MA"},{"i":2,"p":4.708,"t":"SAR"}]},
 "mark":{"type":"text","align":"left","baseline":"alphabetic","font":"Open Sans","fontSize":11,"color":"#666666"},
 "encoding":{"y":{"field":"p","type":"quantitative","scale":{"domain":[3.4491,4.9733],"nice":false,"zero":false},"title":null},"text":{"field":"t"}}},
{"data":{"values":[{"i":8.5,"p":4.836},{"i":9,"p":4.772},{"i":10,"p":4.708},{"i":108.3,"p":4.893}]},
 "mark":{"type":"text","align":"left","baseline":"alphabetic","font":"DejaVu Sans","fontSize":11,"color":"#b5b5b5","text":"▾"},
 "encoding":{"y":{"field":"p","type":"quantitative","scale":{"domain":[3.4491,4.9733],"nice":false,"zero":false},"title":null}}},
{"data":{"values":[{"i":14.2,"p":4.849},{"i":19.3,"p":4.849},{"i":24.1,"p":4.849},{"i":14.9,"p":4.785},{"i":20.1,"p":4.785},{"i":24.7,"p":4.785},{"i":16.1,"p":4.721},{"i":21,"p":4.721},{"i":25.9,"p":4.721},{"i":115.8,"p":4.916},{"i":120.4,"p":4.916}]},
 "mark":{"type":"point","shape":"square","filled":true,"color":"#dddddd","size":160,"opacity":0.85},
 "encoding":{"y":{"field":"p","type":"quantitative","scale":{"domain":[3.4491,4.9733],"nice":false,"zero":false},"title":null}}},
{"data":{"values":[{"i":14.2,"p":4.849,"g":"◉"},{"i":19.3,"p":4.849,"g":"⚙"},{"i":24.1,"p":4.849,"g":"✕"},{"i":14.9,"p":4.785,"g":"◉"},{"i":20.1,"p":4.785,"g":"⚙"},{"i":24.7,"p":4.785,"g":"✕"},{"i":16.1,"p":4.721,"g":"◉"},{"i":21,"p":4.721,"g":"⚙"},{"i":25.9,"p":4.721,"g":"✕"},{"i":115.8,"p":4.916,"g":"◉"},{"i":120.4,"p":4.916,"g":"⚙"}]},
 "mark":{"type":"text","font":"DejaVu Sans","fontSize":10,"color":"#ffffff","baseline":"middle"},
 "encoding":{"y":{"field":"p","type":"quantitative","scale":{"domain":[3.4491,4.9733],"nice":false,"zero":false},"title":null},"text":{"field":"g"}}},
{"data":{"values":[{"i":4.3,"p":3.503,"t":"Investing"}]},"mark":{"type":"text","align":"left","baseline":"alphabetic","font":"Liberation Sans","fontWeight":"bold","fontSize":20.5,"color":"#222222"},
 "encoding":{"y":{"field":"p","type":"quantitative","scale":{"domain":[3.4491,4.9733],"nice":false,"zero":false},"title":null},"text":{"field":"t"}}},
{"data":{"values":[{"i":30.3,"p":3.503,"t":".com"}]},"mark":{"type":"text","align":"left","baseline":"alphabetic","font":"Liberation Sans","fontSize":14.5,"color":"#777777"},
 "encoding":{"y":{"field":"p","type":"quantitative","scale":{"domain":[3.4491,4.9733],"nice":false,"zero":false},"title":null},"text":{"field":"t"}}},
{"data":{"values":[{"i":22.1,"p":3.55}]},"mark":{"type":"point","filled":true,"color":"#ff9900","size":10,"opacity":1},
 "encoding":{"y":{"field":"p","type":"quantitative","scale":{"domain":[3.4491,4.9733],"nice":false,"zero":false},"title":null}}},
{"data":{"values":[{"i":269.8,"p":4.9,"t":"4.900"},{"i":269.8,"p":4.8,"t":"4.800"},{"i":269.8,"p":4.7,"t":"4.700"},{"i":269.8,"p":4.6,"t":"4.600"},{"i":269.8,"p":4.5,"t":"4.500"},{"i":269.8,"p":4.1,"t":"4.100"},{"i":269.8,"p":4.0,"t":"4.000"},{"i":269.8,"p":3.9,"t":"3.900"},{"i":269.8,"p":3.8,"t":"3.800"},{"i":269.8,"p":3.7,"t":"3.700"},{"i":269.8,"p":3.6,"t":"3.600"},{"i":269.8,"p":3.5,"t":"3.500"}]},
 "mark":{"type":"text","align":"left","baseline":"middle","font":"Liberation Sans","fontSize":11,"color":"#666666"},
 "encoding":{"y":{"field":"p","type":"quantitative","scale":{"domain":[3.4491,4.9733],"nice":false,"zero":false},"title":null},"text":{"field":"t"}}},
{"data":{"values":[{"a":267.8,"b":279,"lo":4.418,"hi":4.468,"k":"BB"},{"a":267.8,"b":279,"lo":4.367,"hi":4.418,"k":"Last"},{"a":267.8,"b":279,"lo":4.307,"hi":4.358,"k":"BB"},{"a":267.8,"b":279,"lo":4.255,"hi":4.306,"k":"MA9"},{"a":267.8,"b":279,"lo":4.204,"hi":4.255,"k":"BB"},{"a":267.8,"b":279,"lo":4.154,"hi":4.204,"k":"MA20"},{"a":267.8,"b":279,"lo":3.899,"hi":3.949,"k":"BB"}]},
 "mark":{"type":"bar"},
 "encoding":{"x":{"field":"a","type":"quantitative"},"x2":{"field":"b"},"y":{"field":"lo","type":"quantitative","scale":{"domain":[3.4491,4.9733],"nice":false,"zero":false},"title":null},"y2":{"field":"hi"},
  "fill":{"field":"k","type":"nominal","scale":{"domain":["BB","Last","MA9","MA20","MACD","Signal"],"range":["#0000ff","#5577ee","#ff00ff","#ff0000","#0000ff","#ff0000"]},"legend":null}}},
{"data":{"values":[{"i":273.4,"t":"4.444","at":4.443},{"i":273.4,"t":"4.418","at":4.392},{"i":273.4,"t":"4.333","at":4.333},{"i":273.4,"t":"4.312","at":4.28},{"i":273.4,"t":"4.302","at":4.23},{"i":273.4,"t":"4.186","at":4.179},{"i":273.4,"t":"3.927","at":3.924}]},
 "mark":{"type":"text","font":"Liberation Sans","fontWeight":"bold","fontSize":11,"color":"#ffffff","baseline":"middle"},
 "encoding":{"y":{"field":"at","type":"quantitative","scale":{"domain":[3.4491,4.9733],"nice":false,"zero":false},"title":null},"text":{"field":"t"}}}
]
},
{
"width":982,"height":58,
"encoding":{"x":{"field":"i","type":"quantitative","scale":{"domain":[0,282.18],"nice":false,"zero":false,"padding":0},"axis":null}},
"layer":[
{"data":{"values":[{"a":0,"b":0.6}]},"mark":{"type":"bar","color":"#dfe0ee"},"encoding":{"x":{"field":"a","type":"quantitative"},"x2":{"field":"b"}}},
{"data":{"name":"candles"},"mark":{"type":"rule","color":"#ff3333","strokeWidth":1},
 "encoding":{"y":{"field":"d","type":"quantitative","scale":{"domain":[-0.0575,0.0833],"nice":false,"zero":false},
  "axis":{"orient":"right","offset":-50,"values":[0],"format":".4f","title":null,"grid":false,"domainColor":"#666666","tickColor":"#666666","tickSize":3,"labelColor":"#666666","labelFont":"Liberation Sans","labelFontSize":11,"labelPadding":4}},"y2":{"datum":0}}},
{"data":{"name":"lines"},"mark":{"type":"line","color":"#7474ff","strokeWidth":1.2,"interpolate":"monotone"},"encoding":{"y":{"field":"m","type":"quantitative","scale":{"domain":[-0.0575,0.0833],"nice":false,"zero":false},"title":null}}},
{"data":{"name":"lines"},"mark":{"type":"line","color":"#ff6060","strokeWidth":1.2,"interpolate":"monotone"},"encoding":{"y":{"field":"n","type":"quantitative","scale":{"domain":[-0.0575,0.0833],"nice":false,"zero":false},"title":null}}},
{"data":{"values":[{"a":0.45,"b":267.8,"p":-0.0575}]},"mark":{"type":"rule","color":"#555555","strokeWidth":1.5},
 "encoding":{"x":{"field":"a","type":"quantitative"},"x2":{"field":"b"},"y":{"field":"p","type":"quantitative","scale":{"domain":[-0.0575,0.0833],"nice":false,"zero":false},"title":null}}},
{"data":{"values":[{"i":2,"p":0.0347,"t":"MACD"}]},"mark":{"type":"text","align":"left","baseline":"alphabetic","font":"Open Sans","fontSize":11,"color":"#666666"},
 "encoding":{"y":{"field":"p","type":"quantitative","scale":{"domain":[-0.0575,0.0833],"nice":false,"zero":false},"title":null},"text":{"field":"t"}}},
{"data":{"values":[{"i":12.4,"p":0.0347}]},"mark":{"type":"text","align":"left","baseline":"alphabetic","font":"DejaVu Sans","fontSize":11,"color":"#b5b5b5","text":"▾"},
 "encoding":{"y":{"field":"p","type":"quantitative","scale":{"domain":[-0.0575,0.0833],"nice":false,"zero":false},"title":null}}},
{"data":{"values":[{"i":19,"p":0.0444},{"i":23.9,"p":0.0444},{"i":28.7,"p":0.0444}]},"mark":{"type":"point","shape":"square","filled":true,"color":"#dddddd","size":160,"opacity":0.85},
 "encoding":{"y":{"field":"p","type":"quantitative","scale":{"domain":[-0.0575,0.0833],"nice":false,"zero":false},"title":null}}},
{"data":{"values":[{"i":19,"p":0.0444,"g":"◉"},{"i":23.9,"p":0.0444,"g":"⚙"},{"i":28.7,"p":0.0444,"g":"✕"}]},"mark":{"type":"text","font":"DejaVu Sans","fontSize":10,"color":"#ffffff","baseline":"middle"},
 "encoding":{"y":{"field":"p","type":"quantitative","scale":{"domain":[-0.0575,0.0833],"nice":false,"zero":false},"title":null},"text":{"field":"g"}}},
{"data":{"values":[{"a":267.8,"b":280.5,"lo":0.0735,"hi":0.0808,"k":"MACD"},{"a":267.8,"b":280.5,"lo":0.0379,"hi":0.0735,"k":"Signal"},{"a":267.8,"b":280.5,"lo":-0.0017,"hi":0.0347,"k":"Signal"}]},"mark":{"type":"bar"},
 "encoding":{"x":{"field":"a","type":"quantitative"},"x2":{"field":"b"},"y":{"field":"lo","type":"quantitative","scale":{"domain":[-0.0575,0.0833],"nice":false,"zero":false},"title":null},"y2":{"field":"hi"},
  "fill":{"field":"k","type":"nominal","scale":{"domain":["BB","Last","MA9","MA20","MACD","Signal"],"range":["#0000ff","#5577ee","#ff00ff","#ff0000","#0000ff","#ff0000"]},"legend":null}}},
{"data":{"values":[{"i":274.2,"t":"0.0371","at":0.0557},{"i":274.2,"t":"0.0311","at":0.0165}]},"mark":{"type":"text","font":"Liberation Sans","fontWeight":"bold","fontSize":11,"color":"#ffffff","baseline":"middle"},
 "encoding":{"y":{"field":"at","type":"quantitative","scale":{"domain":[-0.0575,0.0833],"nice":false,"zero":false},"title":null},"text":{"field":"t"}}}
]
},
{
"width":982,"height":52,
"encoding":{"x":{"field":"i","type":"quantitative","scale":{"domain":[0,282.18],"nice":false,"zero":false,"padding":0},
 "axis":{"values":[7.2,29.6,51.4,73.3,104.3,135,157.2,179.3,201.4,235,257.2],"title":null,"grid":false,"domain":false,"tickColor":"#666666","tickSize":3,"labelPadding":2,"labelColor":"#666666","labelFont":"Liberation Sans","labelFontSize":11,"labelOverlap":false,"labelFlush":false,
 "labelExpr":"{'7.2':'Avr','29.6':'Juin','51.4':'Août','73.3':'Oct','104.3':'2025','135':'Avr','157.2':'Juin','179.3':'Août','201.4':'Oct','235':'2026','257.2':'Mars'}[''+datum.value]",
 "labelFontWeight":{"condition":{"test":"datum.value==104.3||datum.value==235","value":"bold"},"value":"normal"}}}},
"layer":[
{"data":{"values":[{"a":0,"b":267.8,"p":30,"q":70}]},"mark":{"type":"bar","color":"#f0e5f2"},
 "encoding":{"x":{"field":"a","type":"quantitative"},"x2":{"field":"b"},"y":{"field":"p","type":"quantitative","scale":{"domain":[15.73,85.07],"nice":false,"zero":false},
  "axis":{"orient":"right","offset":-50,"values":[40],"format":".4f","title":null,"grid":false,"domainColor":"#666666","tickColor":"#666666","tickSize":3,"labelColor":"#666666","labelFont":"Liberation Sans","labelFontSize":11,"labelPadding":4}},"y2":{"field":"q"}}},
{"data":{"values":[{"a":0,"b":0.6}]},"mark":{"type":"bar","color":"#dfe0ee"},"encoding":{"x":{"field":"a","type":"quantitative"},"x2":{"field":"b"}}},
{"data":{"values":[{"a":0.3,"b":267.8,"p":30},{"a":0.3,"b":267.8,"p":70}]},"mark":{"type":"rule","color":"#776677","strokeWidth":1,"strokeDash":[6,4]},
 "encoding":{"x":{"field":"a","type":"quantitative"},"x2":{"field":"b"},"y":{"field":"p","type":"quantitative","scale":{"domain":[15.73,85.07],"nice":false,"zero":false},"title":null}}},
{"data":{"name":"candles"},"mark":{"type":"line","color":"#a65aa8","strokeWidth":1.2},
 "encoding":{"y":{"field":"r","type":"quantitative","scale":{"domain":[15.73,85.07],"nice":false,"zero":false},"title":null}}},
{"data":{"values":[{"a":0.45,"b":267.8,"p":15.73}]},"mark":{"type":"rule","color":"#555555","strokeWidth":1.5},
 "encoding":{"x":{"field":"a","type":"quantitative"},"x2":{"field":"b"},"y":{"field":"p","type":"quantitative","scale":{"domain":[15.73,85.07],"nice":false,"zero":false},"title":null}}},
{"data":{"values":[{"i":2,"p":58.4,"t":"RSI"}]},"mark":{"type":"text","align":"left","baseline":"alphabetic","font":"Open Sans","fontSize":11,"color":"#666666"},
 "encoding":{"y":{"field":"p","type":"quantitative","scale":{"domain":[15.73,85.07],"nice":false,"zero":false},"title":null},"text":{"field":"t"}}},
{"data":{"values":[{"i":14.8,"p":63.7},{"i":19.8,"p":63.7},{"i":24.7,"p":63.7}]},"mark":{"type":"point","shape":"square","filled":true,"color":"#dddddd","size":160,"opacity":0.6},
 "encoding":{"y":{"field":"p","type":"quantitative","scale":{"domain":[15.73,85.07],"nice":false,"zero":false},"title":null}}},
{"data":{"values":[{"i":14.8,"p":63.7,"g":"◉"},{"i":19.8,"p":63.7,"g":"⚙"},{"i":24.7,"p":63.7,"g":"✕"}]},"mark":{"type":"text","font":"DejaVu Sans","fontSize":10,"color":"#ffffff","baseline":"middle"},
 "encoding":{"y":{"field":"p","type":"quantitative","scale":{"domain":[15.73,85.07],"nice":false,"zero":false},"title":null},"text":{"field":"g"}}},
{"data":{"values":[{"a":267.8,"b":282.18,"lo":61.7,"hi":77.5}]},"mark":{"type":"bar","color":"#800080"},
 "encoding":{"x":{"field":"a","type":"quantitative"},"x2":{"field":"b"},"y":{"field":"lo","type":"quantitative","scale":{"domain":[15.73,85.07],"nice":false,"zero":false},"title":null},"y2":{"field":"hi"}}},
{"data":{"values":[{"i":275,"t":"72.6238","at":69.6}]},"mark":{"type":"text","font":"Liberation Sans","fontWeight":"bold","fontSize":11,"color":"#ffffff","baseline":"middle"},
 "encoding":{"y":{"field":"at","type":"quantitative","scale":{"domain":[15.73,85.07],"nice":false,"zero":false},"title":null},"text":{"field":"t"}}},
{"data":{"values":[{"a":0,"b":282.18,"lo":-13.6,"hi":-6.9}]},"mark":{"type":"bar","color":"#e8e8ee"},
 "encoding":{"x":{"field":"a","type":"quantitative"},"x2":{"field":"b"},"y":{"field":"lo","type":"quantitative","scale":{"domain":[15.73,85.07],"nice":false,"zero":false},"title":null},"y2":{"field":"hi"}}}
]
}
]
}
